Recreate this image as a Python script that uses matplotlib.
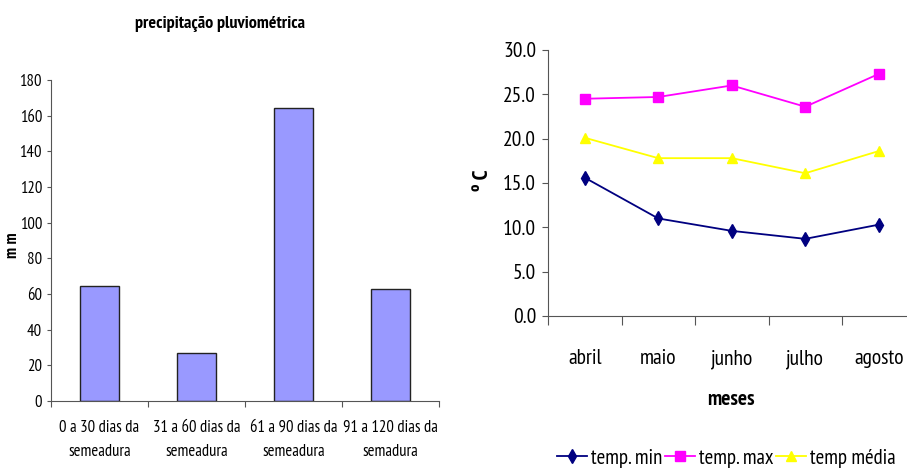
import matplotlib.pyplot as plt
from matplotlib.ticker import FixedLocator, NullFormatter, FixedFormatter

plt.rcParams['font.family'] = ['PT Sans Narrow', 'Liberation Sans', 'DejaVu Sans']

# Data
periodos = ["0 a 30 dias da\nsemeadura", "31 a 60 dias da\nsemeadura",
            "61 a 90 dias da\nsemeadura", "91 a 120 dias da\nsemadura"]
precip = [64.5, 27, 164.5, 63]

meses = ["abril", "maio", "junho", "julho", "agosto"]
t_min = [15.6, 11.0, 9.6, 8.7, 10.3]
t_max = [24.5, 24.7, 26.0, 23.6, 27.3]
t_media = [20.1, 17.8, 17.8, 16.1, 18.6]

fig = plt.figure(figsize=(9.07, 4.68), dpi=100)

# Left chart: rainfall bars
ax1 = fig.add_axes([0.0562, 0.1432, 0.4278, 0.6859])
xs = range(len(periodos))
ax1.bar(xs, precip, width=0.41, color="#9999FF", edgecolor="#222222", linewidth=1)
ax1.set_xlim(-0.5, len(periodos) - 0.5)
ax1.set_ylim(0, 180)
ax1.set_yticks(range(0, 181, 20))
ax1.xaxis.set_major_locator(FixedLocator([i - 0.5 for i in range(len(periodos) + 1)]))
ax1.xaxis.set_major_formatter(NullFormatter())
ax1.xaxis.set_minor_locator(FixedLocator(list(xs)))
ax1.xaxis.set_minor_formatter(FixedFormatter(periodos))
ax1.tick_params(axis='x', which='major', length=4, color="#555555", direction='out')
ax1.tick_params(axis='x', which='minor', length=0, pad=13.5, labelsize=12)
for lab in ax1.xaxis.get_minorticklabels():
    lab.set_linespacing(1.65)
ax1.tick_params(axis='y', length=3, color="#555555", labelsize=12, pad=3.5)
for s in ["top", "right"]:
    ax1.spines[s].set_visible(False)
for s in ["left", "bottom"]:
    ax1.spines[s].set_color("#555555")
ax1.set_ylabel("m m", fontsize=12, fontweight="bold")
ax1.yaxis.set_label_coords(-0.077, 0.486)
fig.text(0.2426, 0.949, "precipitação pluviométrica", ha="center", va="center",
         fontsize=13, fontweight="bold")

# Right chart: temperatures
ax2 = fig.add_axes([0.6042, 0.3248, 0.4052, 0.5684])
xm = range(len(meses))
ax2.plot(xm, t_min, "-d", color="#000080", markersize=7, linewidth=1.3, label="temp. min")
ax2.plot(xm, t_max, "-s", color="#FF00FF", markersize=6.5, linewidth=1.3, label="temp. max")
ax2.plot(xm, t_media, "-^", color="#FFFF00", markersize=7.5, linewidth=1.3, label="temp média")
ax2.set_xlim(-0.5, len(meses) - 0.5)
ax2.set_ylim(0, 30)
ax2.set_yticks(range(0, 31, 5))
ax2.set_yticklabels([f"{v:.1f}" for v in range(0, 31, 5)])
ax2.xaxis.set_major_locator(FixedLocator([i - 0.5 for i in range(len(meses) + 1)]))
ax2.xaxis.set_major_formatter(NullFormatter())
ax2.xaxis.set_minor_locator(FixedLocator(list(xm)))
ax2.xaxis.set_minor_formatter(FixedFormatter(meses))
ax2.tick_params(axis='x', which='major', length=6.5, color="#555555", direction='out')
ax2.tick_params(axis='x', which='minor', length=0, pad=24, labelsize=15.5)
ax2.tick_params(axis='y', length=4, color="#555555", labelsize=15.5, pad=4.5)
for s in ["top", "right"]:
    ax2.spines[s].set_visible(False)
for s in ["left", "bottom"]:
    ax2.spines[s].set_color("#555555")
ax2.set_ylabel("º C", fontsize=15.5, fontweight="bold")
ax2.yaxis.set_label_coords(-0.152, 0.511)
ax2.set_xlabel("meses", fontsize=15.5, fontweight="bold")
ax2.xaxis.set_label_coords(0.498, -0.278)

fig.legend(loc="center left", bbox_to_anchor=(0.614, 0.021), ncol=3, frameon=False,
           fontsize=15, handlelength=1.45, handletextpad=0.2, columnspacing=0.1,
           borderpad=0, borderaxespad=0)

plt.savefig("out.png", dpi=100)
